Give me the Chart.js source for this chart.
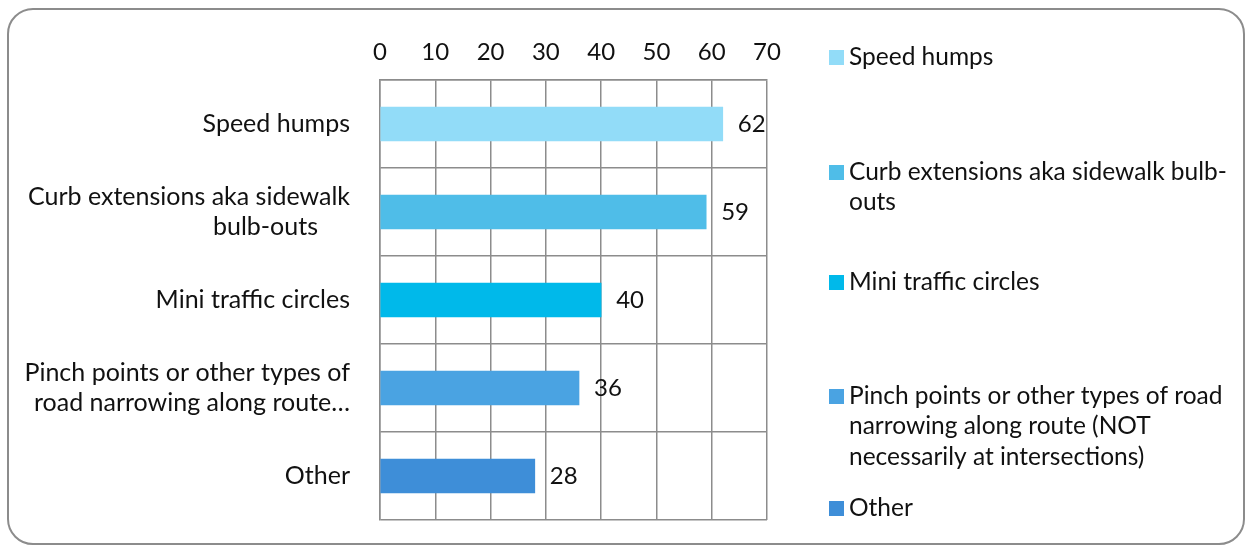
<!DOCTYPE html>
<html>
<head>
<meta charset="utf-8">
<script src="https://cdn.jsdelivr.net/npm/chart.js@4.4.1/dist/chart.umd.min.js"></script>
<style>
  body { margin: 0; background: #fff; }
  #wrap { position: relative; width: 1253px; height: 550px; }
  #frame { position: absolute; left: 7px; top: 8px; width: 1238px; height: 537px; box-sizing: border-box;
           border: 2px solid #8c8c8c; border-radius: 26px; pointer-events: none; }
  canvas { position: absolute; left: 0; top: 0; }
</style>
</head>
<body>
<div id="wrap">
  <canvas id="chart" width="1253" height="550"></canvas>
  <div id="frame"></div>
</div>
<script>
// chart data
const categories = [
  'Speed humps',
  'Curb extensions aka sidewalk bulb-outs',
  'Mini traffic circles',
  'Pinch points or other types of road narrowing along route (NOT necessarily at intersections)',
  'Other'
];
const axisLabels = [
  ['Speed humps'],
  ['Curb extensions aka sidewalk', 'bulb-outs     '],
  ['Mini traffic circles'],
  ['Pinch points or other types of', 'road narrowing along route\u2026'],
  ['Other']
];
const legendLines = [
  ['Speed humps'],
  ['Curb extensions aka sidewalk bulb-', 'outs'],
  ['Mini traffic circles'],
  ['Pinch points or other types of road', 'narrowing along route (NOT', 'necessarily at intersections)'],
  ['Other']
];
const values = [62, 59, 40, 36, 28];
const barColors = ['#92dcf8', '#4fbde8', '#00b9ea', '#4aa3e2', '#3e8ed8'];
const xMin = 0, xMax = 70, xStep = 10;

// legend placement (first line centre of each item)
const legendTop = [57, 172, 282, 396, 508];

const FONT = 'Lato';
Chart.defaults.font.family = FONT;
Chart.defaults.font.size = 24;
Chart.defaults.color = '#111';

const valueLabels = {
  id: 'valueLabels',
  afterDatasetsDraw(chart) {
    const ctx = chart.ctx;
    const meta = chart.getDatasetMeta(0);
    ctx.save();
    ctx.font = '24px ' + FONT;
    ctx.fillStyle = '#111';
    ctx.textAlign = 'left';
    ctx.textBaseline = 'middle';
    meta.data.forEach((bar, i) => {
      ctx.fillText(values[i], bar.x + 15, bar.y);
    });
    ctx.restore();
  }
};

const sideLegend = {
  id: 'sideLegend',
  afterDraw(chart) {
    const ctx = chart.ctx;
    ctx.save();
    ctx.font = '24.5px ' + FONT;
    ctx.textAlign = 'left';
    ctx.textBaseline = 'middle';
    legendLines.forEach((lines, i) => {
      const y = legendTop[i];
      ctx.fillStyle = barColors[i];
      ctx.fillRect(829, y - 7, 15, 15);
      ctx.fillStyle = '#111';
      lines.forEach((t, j) => ctx.fillText(t, 849, y + j * 30.5));
    });
    ctx.restore();
  }
};

new Chart(document.getElementById('chart'), {
  type: 'bar',
  data: {
    labels: axisLabels,
    datasets: [{
      label: 'Responses',
      data: values,
      backgroundColor: barColors,
      barThickness: 34
    }]
  },
  options: {
    indexAxis: 'y',
    responsive: false,
    animation: false,
    layout: { padding: { top: 0, left: 0, right: 486, bottom: 30 } },
    plugins: {
      legend: { display: false },
      tooltip: { enabled: false }
    },
    scales: {
      x: {
        position: 'top',
        min: xMin,
        max: xMax,
        ticks: { stepSize: xStep, padding: 13, font: { size: 24, lineHeight: 1.25 } },
        grid: { color: '#8c8c8c', lineWidth: 1.5, drawTicks: false },
        border: { color: '#8c8c8c', width: 1.5 },
        afterFit(scale) { scale.height = 80; scale.paddingLeft = 0; scale.paddingRight = 0; }
      },
      y: {
        ticks: { padding: 30, font: { size: 25, lineHeight: 1.22 } },
        grid: { color: '#8c8c8c', lineWidth: 1.5, drawTicks: false, offset: true },
        border: { color: '#8c8c8c', width: 1.5 },
        afterFit(scale) { scale.width = 380; scale.paddingTop = 0; scale.paddingBottom = 0; }
      }
    }
  },
  plugins: [valueLabels, sideLegend]
});
</script>
</body>
</html>
